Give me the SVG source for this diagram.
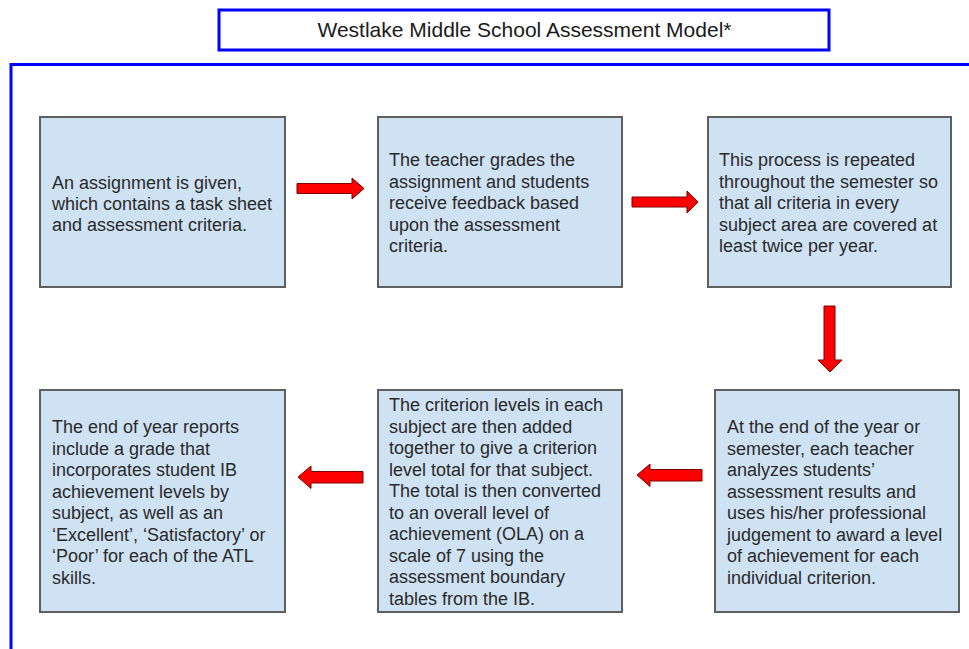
<svg xmlns="http://www.w3.org/2000/svg" width="969" height="649" viewBox="0 0 969 649">
  <style>
    .box { fill: #cfe2f3; stroke: #5f5f5f; stroke-width: 2; }
    .txt { font-family: "Liberation Sans", Arial, sans-serif; font-size: 18px; fill: #2a2a2a; }
    .title { font-family: "Liberation Sans", Arial, sans-serif; font-size: 21px; fill: #1a1a1a; text-anchor: middle; }
    .arrow { fill: #ff0000; stroke: #7a0000; stroke-width: 1; stroke-linejoin: miter; }
    .blue { fill: none; stroke: #0000ff; stroke-width: 3; }
  </style>
  <rect width="969" height="649" fill="#ffffff"/>

  <g id="title">
    <rect x="219" y="10" width="610" height="40" fill="#ffffff" stroke="#0000ff" stroke-width="3"/>
    <text class="title" x="524.5" y="37">Westlake Middle School Assessment Model*</text>
  </g>

  <g id="frame">
    <polyline class="blue" points="11,649 11,64.5 969,64.5"/>
  </g>

  <g id="node1">
    <rect class="box" x="40" y="117" width="245" height="170"/>
    <text class="txt" x="52" y="189">An assignment is given,</text>
    <text class="txt" x="52" y="210">which contains a task sheet</text>
    <text class="txt" x="52" y="231">and assessment criteria.</text>
  </g>

  <g id="node2">
    <rect class="box" x="378" y="117" width="244" height="170"/>
    <text class="txt" x="389" y="166">The teacher grades the</text>
    <text class="txt" x="389" y="187.5">assignment and students</text>
    <text class="txt" x="389" y="209">receive feedback based</text>
    <text class="txt" x="389" y="230.5">upon the assessment</text>
    <text class="txt" x="389" y="252">criteria.</text>
  </g>

  <g id="node3">
    <rect class="box" x="708" y="117" width="243" height="170"/>
    <text class="txt" x="719" y="166">This process is repeated</text>
    <text class="txt" x="719" y="187.5">throughout the semester so</text>
    <text class="txt" x="719" y="209">that all criteria in every</text>
    <text class="txt" x="719" y="230.5">subject area are covered at</text>
    <text class="txt" x="719" y="252">least twice per year.</text>
  </g>

  <g id="node4">
    <rect class="box" x="715" y="390" width="244" height="222"/>
    <text class="txt" x="727" y="433">At the end of the year or</text>
    <text class="txt" x="727" y="454.5">semester, each teacher</text>
    <text class="txt" x="727" y="476">analyzes students’</text>
    <text class="txt" x="727" y="497.5">assessment results and</text>
    <text class="txt" x="727" y="519">uses his/her professional</text>
    <text class="txt" x="727" y="540.5">judgement to award a level</text>
    <text class="txt" x="727" y="562">of achievement for each</text>
    <text class="txt" x="727" y="583.5">individual criterion.</text>
  </g>

  <g id="node5">
    <rect class="box" x="378" y="390" width="244" height="222"/>
    <text class="txt" x="389" y="411">The criterion levels in each</text>
    <text class="txt" x="389" y="432.5">subject are then added</text>
    <text class="txt" x="389" y="454">together to give a criterion</text>
    <text class="txt" x="389" y="475.5">level total for that subject.</text>
    <text class="txt" x="389" y="497">The total is then converted</text>
    <text class="txt" x="389" y="518.5">to an overall level of</text>
    <text class="txt" x="389" y="540">achievement (OLA) on a</text>
    <text class="txt" x="389" y="561.5">scale of 7 using the</text>
    <text class="txt" x="389" y="583">assessment boundary</text>
    <text class="txt" x="389" y="604.5">tables from the IB.</text>
  </g>

  <g id="node6">
    <rect class="box" x="40" y="390" width="245" height="222"/>
    <text class="txt" x="52" y="433">The end of year reports</text>
    <text class="txt" x="52" y="454.5">include a grade that</text>
    <text class="txt" x="52" y="476">incorporates student IB</text>
    <text class="txt" x="52" y="497.5">achievement levels by</text>
    <text class="txt" x="52" y="519">subject, as well as an</text>
    <text class="txt" x="52" y="540.5">‘Excellent’, ‘Satisfactory’ or</text>
    <text class="txt" x="52" y="562">‘Poor’ for each of the ATL</text>
    <text class="txt" x="52" y="583.5">skills.</text>
  </g>

  <g id="connectors">
    <polygon class="arrow" points="297,183.5 352,183.5 352,178 364,188.5 352,199 352,193.5 297,193.5"/>
    <polygon class="arrow" points="632,197 687,197 687,191 698,202 687,213 687,207 632,207"/>
    <polygon class="arrow" points="824,306 835,306 835,360 842,360 830,372 818,360 824,360"/>
    <polygon class="arrow" points="702,469.5 650,469.5 650,464 637,475 650,486.5 650,481 702,481"/>
    <polygon class="arrow" points="363,471.5 311,471.5 311,466 298,477 311,488.5 311,483 363,483"/>
  </g>
</svg>
